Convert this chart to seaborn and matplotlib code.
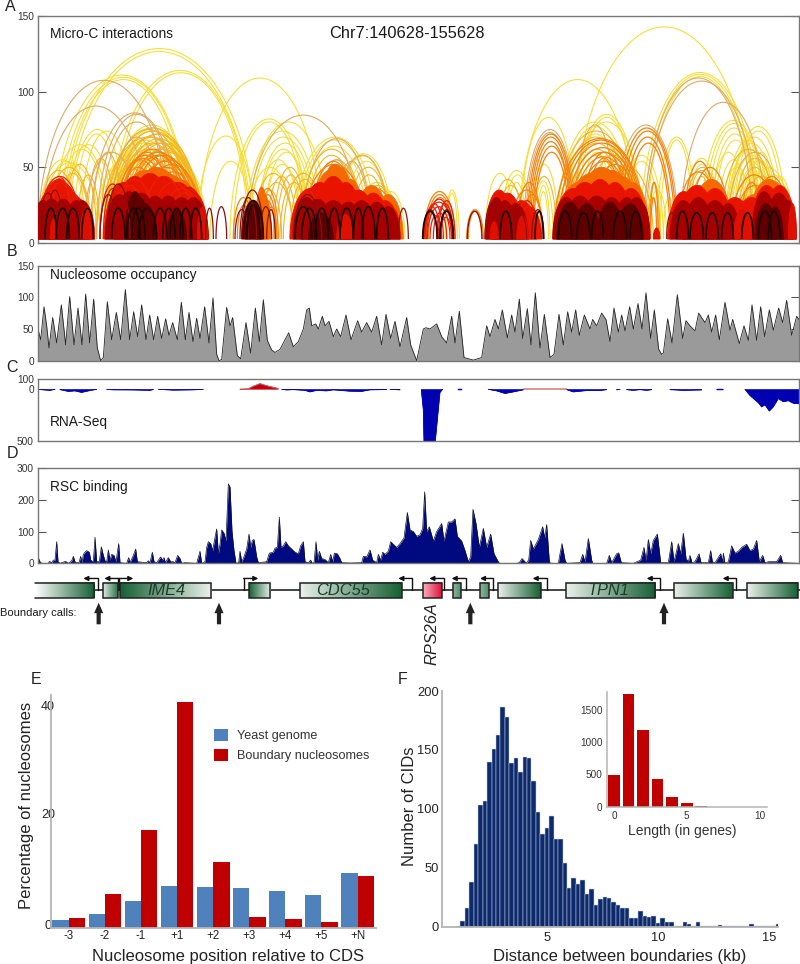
import numpy as np
import pandas as pd
import matplotlib
matplotlib.use("Agg")
import matplotlib.pyplot as plt
from matplotlib.collections import LineCollection, PolyCollection
from matplotlib.colors import LinearSegmentedColormap
from matplotlib.patches import Rectangle
from matplotlib.transforms import ScaledTranslation
import seaborn as sns

# ---------- Panel A: Micro-C arcs, (left bin, right bin, height); *_a left half, *_b right half (+1200 bins)
yellow_a = [(190,765,128.5),(200,755,126.5),(330,750,114),(340,745,112.5),(595,965,109),(160,570,111),(175,565,109.5),(185,555,108),
 (114,260,55),(130,270,54),(118,300,53),(150,330,65),(170,320,62),(190,340,65),(205,380,75),(220,360,72),(240,400,74),
 (320,590,78),(330,585,76),(335,575,74),(350,570,76),(345,600,72),(360,590,72),(370,600,68),(330,610,66),(345,610,62),(310,560,68),(320,540,66),
 (340,500,60),(300,480,58),(290,450,55),(285,420,50),(400,605,64),(420,610,60),(440,615,56),(470,620,52),
 (590,765,70.7),(630,755,54),(690,925,82),(700,915,80),(745,985,80),(735,960,74),(750,950,70),(770,940,66),(775,925,62),(790,930,60),(770,900,55),(790,905,52),(740,880,50),
 (880,1130,70),(890,1120,68),(900,1105,64),(1000,1180,59),(1010,1170,57.5),(1030,1170,54),(1060,1200,40),(1070,1190,40),(1100,1190,36),(1130,1215,34)]
yellow_b = [(520,1065,142.8),(355,710,108),(360,530,83),(520,720,85),(530,710,83),(510,730,80),(720,1080,112.7),(730,1070,111.5),(740,1060,110),
 (770,890,70),(780,880,68),(900,1100,81),(910,1095,79),(920,1085,76),(930,1080,72),(940,1075,68),(990,1160,77),(1000,1150,74),(985,1140,70),(980,1130,66),(975,1125,62),(990,1120,58),(1000,1110,54),(1035,1175,50),
 (850,960,56),(860,950,52),(255,345,46),(300,400,48),(310,395,45),(320,380,40),(135,178,35),(140,172,33),(400,460,41),(410,450,38),(415,445,34),(390,475,52),
 (470,700,80),(480,690,77),(490,680,72),(540,640,60),(580,700,62),(600,720,60),(660,790,58),(670,780,54),(745,800,35),(790,825,30),(1040,1130,60),(1060,1180,45),
 (930,1040,60),(950,1050,55),(960,1060,50),(975,1110,68),(1010,1100,50),(1020,1090,45),(1030,1130,55),(1045,1120,48),(1060,1110,40),(1100,1180,44),(1120,1175,38)]
gold_a = [(300,590,70),(315,575,75),(340,560,70),(355,595,66),(375,605,62),(330,560,62),(345,545,58),(360,540,56),(325,500,54),(310,470,50),(400,600,56),(430,610,50),(455,615,46),
 (310,605,76),(322,598,74),(338,608,72),(352,600,69),(366,612,66),(380,605,63),(392,615,60),(330,580,70),(345,565,66),
 (115,235,48),(140,275,50),(165,270,46),(190,290,52),(230,300,45),(260,345,56),(275,370,60),(760,880,46),(780,880,40),(800,890,44),(820,920,50),(830,915,45),(840,925,40),(775,845,35),
 (900,1090,62),(915,1075,58),(930,1090,55),(1040,1170,50),(1055,1160,45),(1075,1190,38),(850,970,46),(870,960,42),(1130,1200,30)]
gold_b = [(465,710,74),(475,700,70),(490,690,66),(500,680,62),(510,670,58),(560,720,58),(580,730,55),(610,760,50),(745,780,40),(740,775,30),(960,1130,62),(1000,1130,56),(1010,1120,50),(1020,1150,44),(1050,1170,38),(860,950,48),(870,940,44),(275,370,42),(290,375,38),(395,470,44)]
tan_a = [(114,510,107.5),(125,450,90.5),(270,540,86),(290,530,85),(300,520,80),(740,1080,84.5),(905,1115,69),(1005,1170,58),(330,490,70),(250,420,60),(1000,1110,54),(960,1060,55),(1100,1200,30)]
tan_b = [(840,1100,93),(370,530,75),(375,525,73),(640,835,78),(730,1060,109),(735,1075,107),(520,650,78),(980,1150,60),(850,965,50),(880,930,35)]
orange_a = [(340,500,55),(360,520,60),(380,570,58),(400,590,54),(420,580,50),(440,600,47),(350,480,50),(355,560,62),(370,580,60),(385,595,58),(405,605,55),(420,612,52),(340,530,58),(350,510,56),(775,830,32),(780,825,28),(770,835,36),(905,1100,52),(930,1070,54),(950,1060,50),(1065,1190,36),(1080,1185,32),(1115,1195,28),(700,760,30),(712,750,25),(800,830,24)]
orange_b = [(380,525,72),(385,520,70),(390,515,67),(395,515,64),(400,510,60),(650,830,76),(660,825,74),(670,815,70),(680,810,66),(460,740,69),(470,735,68),(480,730,66),(490,725,63),(500,720,60),(510,710,57),(525,700,54),(540,690,60),(555,670,56),(570,720,52),(72,165,34),(78,160,32),(85,155,30),(200,250,22),(205,245,21),(990,1135,45),(1020,1090,40),(1000,1130,38),(1060,1170,44),(1090,1165,40),(830,960,47),(850,950,54),(870,990,50),(330,430,35),(350,425,40),(365,430,32),(750,775,40),(752,770,30)]
red_arcs_a = [(114,245,44),(122,235,42),(135,225,40),(150,215,43),(135,195,35),(300,375,39),(310,365,36),(325,445,38),(335,470,42),(350,430,38),(425,560,44),(450,590,40),(480,610,36),(495,612,33),(885,960,35),(1165,1200,22)]
red_arcs_b = [(75,158,27),(82,150,24),(72,120,24),(75,130,26),(110,160,26),(115,165,28),(80,155,29),(100,140,20),(90,125,18),(120,155,17),(345,415,28),(360,405,24),(1140,1188,30)]
orange_domes_a = [(350,520,48),(380,560,50),(400,570,48),(430,590,45),(465,610,42),(770,815,32),(765,805,37),(930,1050,48),(950,1060,52),(970,1070,50),(1000,1100,42),(1060,1170,38),(1120,1210,32)]
orange_domes_b = [(490,660,46),(520,690,50),(560,710,48),(600,730,44),(470,600,40),(650,748,40),(840,960,38),(870,1000,42),(1000,1130,32),(1040,1175,42),(1080,1180,38)]
red_domes_a = [(100,250,38),(112,240,42),(130,245,40),(150,265,34),(175,280,30),(312,430,40),(340,470,44),(380,520,46),(420,560,44),(470,600,40),(510,620,37),(540,625,33),(870,990,36),(900,1020,40),(940,1060,44),(985,1090,40),(1020,1130,35),(1070,1170,33),(1110,1200,28)]
red_domes_b = [(255,340,35),(275,370,33),(320,410,28),(350,425,24),(460,580,36),(490,620,40),(540,660,42),(590,700,40),(640,745,36),(670,750,30),(803,900,34),(830,950,38),(890,1000,36),(950,1060,30),(1000,1110,30),(1050,1150,38),(1090,1188,38)]
dark_domes_a = [(90,170,28),(114,195,29),(150,230,29),(190,270,28),(210,283,28),(316,400,32),(345,430,34),(380,470,33),(420,510,31),(460,550,31),(500,590,30),(540,622,30),(565,625,27),(725,790,28),(880,960,30),(905,1000,29),(950,1050,28),(1000,1090,27),(1040,1130,28),(1090,1170,27),(1130,1200,24)]
dark_domes_b = [(258,320,30),(280,350,28),(310,385,26),(458,540,30),(490,590,31),(540,640,31),(590,680,30),(640,720,30),(670,748,30),(700,750,26),(810,890,28),(850,940,30),(900,990,28),(950,1020,26),(1055,1130,34),(1095,1180,33),(1140,1188,28)]
bright_domes_a = [(240,284,24),(150,172,16),(592,623,24),(1010,1060,19)]
bright_domes_b = [(1000,1055,22),(1165,1190,26),(350,385,18),(270,295,14),(760,780,10)]
maroon_domes_a = [(375,435,34),(385,450,30),(400,470,26),(500,560,22),(735,785,27),(925,1000,20)]
maroon_domes_b = [(470,550,27),(520,600,26),(590,670,27),(650,730,26),(1065,1130,26),(1100,1150,24)]
dark_arcs_a = [(617,640,23),(648,680,24),(705,745,22),(720,770,30),(725,790,35),(780,815,24),(800,826,22),(880,965,32),(890,950,30),(1195,1225,23),(300,350,32),(320,390,39),(118,170,33),(140,190,35)]
dark_arcs_b = [(202,246,21),(255,300,27),(300,345,21),(340,380,20),(395,432,22),(70,112,22),(120,160,22),(800,830,20)]
black_arcs_a = [(135,170,23),(168,208,23),(200,238,23),(245,280,23),(380,420,23),(395,435,23),(415,470,23),(460,500,23),(488,525,23),(510,550,23),(540,575,23),(570,605,23),(885,935,24),(905,950,23),(945,985,23),(985,1020,23),(1020,1060,23),(1060,1090,23),(1085,1125,24),(1130,1165,23),(730,790,28),(740,780,25),(335,375,23)]
black_arcs_b = [(68,112,21),(120,160,21),(300,335,21),(405,430,21),(475,515,21),(530,570,20),(575,610,21),(640,680,21),(690,725,21),(830,865,21),(870,910,20),(918,955,20),(965,1000,20),(1025,1060,20),(1075,1115,21),(1105,1140,21)]

# ---------- Panel B: nucleosome occupancy
occ_x_a = [114,122,132,140,147,158,170,184,197,209,222,234,246,257,269,281,292,302,310,322,335,349,362,376,389,401,413,425,438,449,461,473,485,497,507,518,532,544,556,567,579,590,600,614,627,639,650,657,665,680,690,698,712,722,738,752,766,778,790,802,815,825,840,852,866,880,895,910,920,928,935,947,955,967,975,987,1000,1010,1022,1038,1053,1073,1085,1100,1115,1130,1145,1158,1172,1185]
occ_y_a = [50,33,85,55,20,68,28,88,25,101,25,83,25,105,28,97,20,0,5,93,33,76,33,112,33,77,38,88,33,72,33,70,35,66,40,60,33,92,33,76,30,67,35,85,28,99,10,0,2,84,55,68,8,3,60,12,83,30,96,32,17,13,18,30,44,22,30,50,80,83,55,58,50,70,55,62,38,50,38,72,33,63,45,60,45,70,25,73,35,62]
occ_x_b = [0,20,32,50,70,78,90,110,125,140,155,165,178,192,220,245,260,270,285,295,307,322,335,345,358,368,382,393,406,420,433,450,462,477,490,503,515,527,538,553,570,578,590,605,618,630,642,655,665,675,689,700,714,726,738,752,763,776,785,790,803,816,832,848,858,870,885,896,915,925,935,947,958,975,990,998,1018,1032,1045,1056,1070,1082,1094,1108,1120,1136,1148,1160,1175,1190,1197]
occ_y_b = [22,68,25,0,50,52,50,58,38,28,70,28,78,5,1,5,55,38,65,50,80,36,72,45,97,35,82,25,107,20,73,5,10,73,25,77,45,80,40,72,50,65,55,75,65,30,83,45,72,47,85,50,90,50,107,35,80,18,10,12,66,28,104,35,63,55,47,75,60,72,45,72,33,92,48,65,27,55,32,88,32,85,38,80,48,83,60,95,40,70,65]

# ---------- Panel C: RNA-Seq (NaN separates the pieces of the track)
nan = np.nan
rna_x_a = [114,130,150,165,nan,180,205,225,245,270,290,nan,320,340,400,450,460,nan,475,520,580,610,nan,845,860,880,915,930,950,980,1000,1050,1085,1110,1160,nan,1170]
rna_y_a = [0,-5,-10,0,nan,-3,-20,-15,-30,-12,0,nan,0,-5,-6,-10,-2,nan,0,-8,-5,0,nan,0,-6,-3,-10,-25,-10,-15,-5,-18,-20,-5,-2,nan,0]
rna_x_b = [0,nan,64,70,72,106,120,128,nan,175,185,nan,265,290,315,340,370,nan,500,520,560,600,620,nan,650,660,nan,680,700,720,740,755,nan,810,850,905,nan,950,970,nan,1035,1050,1075,1085,1095,1108,1120,1135,1150,1165,1180,1198]
rna_y_b = [-5,nan,-5,-200,-500,-500,-30,0,nan,-3,-3,nan,0,-15,-40,-25,-5,nan,-3,-25,-12,-12,-3,nan,-5,0,nan,-3,-10,-3,-10,-3,nan,-3,-10,-6,nan,-3,-3,nan,0,-60,-130,-170,-150,-210,-170,-90,-120,-110,-135,-140]
rna_sense_x = [720,745,760,780,800,835,nan,1570,1700]
rna_sense_y = [2,5,30,55,35,8,nan,3,3]

# ---------- Panel D: RSC binding
rsc_x_a = [114,120,125,145,148,155,160,165,170,174,180,185,197,205,215,220,226,237,242,246,250,255,260,268,272,280,285,290,298,304,310,316,320,325,330,335,342,348,356,360,380,386,390,400,407,412,440,445,450,457,462,470,482,487,492,496,505,512,520,525,533,540,545,555,590,600,605,615,620,625,632,638,643,650,655,660,665,672,678,685,690,696,702,708,716,720,725,730,740,747,752,757,762,770,775,800,808,820,825,832,838,843,850,857,865,875,885,895,902,910,915,925,932,937,942,948,953,958,965,975,985,992,998,1003,1012,1020,1025,1050,1085,1090,1100,1110,1118,1130,1135,1142,1148,1155,1165,1172,1180,1190]
rsc_y_a = [20,5,0,0,6,2,10,10,68,5,0,2,6,0,8,22,2,2,22,2,28,35,40,35,10,5,82,5,5,52,25,5,5,42,10,28,25,5,62,2,0,18,2,25,45,5,2,8,2,35,5,2,20,10,18,2,18,5,5,2,25,15,0,2,0,38,0,5,50,68,62,40,70,108,30,60,105,95,70,250,240,100,40,0,2,38,5,15,45,92,50,72,75,20,2,5,32,35,48,50,145,50,55,68,55,45,35,30,55,68,5,2,10,0,2,68,10,38,15,12,2,28,5,32,30,15,2,1,2,22,20,42,10,2,28,10,35,28,38,68,60,50]
rsc_x_b = [0,12,22,30,40,50,60,68,74,80,88,100,110,125,132,145,155,165,172,185,195,205,212,219,228,238,250,260,272,282,295,298,350,358,366,375,378,386,392,400,415,428,434,440,448,452,475,480,486,495,500,540,548,555,565,575,578,620,628,635,650,656,664,700,722,732,738,745,752,760,772,782,805,815,822,835,842,850,858,865,870,876,885,897,903,925,932,937,945,962,968,970,975,985,995,1005,1015,1025,1040,1050,1060,1070,1078,1088,1095,1105,1130,1142,1148,1195]
rsc_y_b = [62,80,160,105,100,85,90,110,225,100,115,70,100,125,70,130,130,140,85,70,40,5,20,170,125,50,110,50,92,30,5,0,0,2,15,5,0,10,72,45,75,115,80,122,5,0,0,30,62,10,0,2,28,5,78,10,0,0,25,2,30,33,2,0,10,50,8,75,30,72,92,2,2,68,5,62,30,95,15,5,25,2,5,30,2,2,40,5,2,30,5,32,0,5,55,32,38,50,60,40,45,72,5,25,2,5,5,25,2,0]

# ---------- Gene track
gene_start = [105,310,360,747,901,1270,1360,1440,1495,1698,2022,2242]
gene_end = [282,353,633,810,1206,1326,1382,1466,1623,1966,2198,2395]
gene_rising = [True,True,False,False,True,True,True,True,True,True,True,True]
gene_kind = ["full","pale","full","full","full","rp","small","small","full","full","full","full"]
gene_names = {"IME4":500,"CDC55":1030,"TPN1":1825}
tss_stem = [293,355,358,731,1236,1332,1397,1478,1640,1980,2208]
tss_tip = [250,313,400,775,1195,1288,1355,1440,1598,1940,2168]
boundary_calls = [296,657,1411,1992]

# ---------- Panel E
positions = ["-3","-2","-1","+1","+2","+3","+4","+5","+N"]
yeast_genome = [1.4,2.5,4.8,7.6,7.4,7.2,6.7,5.9,9.8]
boundary_nucs = [1.7,6.0,17.6,40.6,11.8,1.9,1.5,1.1,9.4]

# ---------- Panel F
cid_first_edge_kb = 0.9
cid_bin_kb = 0.2
cid_counts = [0.5,5,16,38,70,103,107,140,151,163,186,178,139,143,131,144,143,124,97,79,84,94,74,74,54,33,41,36,40,28,32,18,23.5,25.5,24,21,18,16,15.5,7,7.6,13,9,8,9,3,7,4,4,1,1,4,2,0.3,4,0.5,0.5,0.5,0.5,1.5,0.5,0.5,0.5,0.5,0.5,0.3,2,1,0.3,0.3,0.5,0.3,2]
gene_lengths = [str(i) for i in range(11)]
length_counts = [495,1740,1180,432,150,52,10,3,1,1,1]

# ---------- Styles
GENOME_L, GENOME_R = 38, 799
XMIN, XMAX = 114, 2397
BASE = 2.6
FIG_H = 964
sns.set_theme(style="white", rc={"axes.grid": False})
plt.rcParams["font.family"] = ["Liberation Sans", "DejaVu Sans"]
TICK_C = "#333333"
SPINE_C = "#777777"
fig = plt.figure(figsize=(8, 9.64), dpi=100)


def px_axes(l, t, r, b, **kw):
    return fig.add_axes([l / 800, 1 - b / FIG_H, (r - l) / 800, (b - t) / FIG_H], **kw)


def px_text(x, y, s, **kw):
    kw.setdefault("va", "center")
    kw.setdefault("color", "#1a1a1a")
    return fig.text(x / 800, 1 - y / FIG_H, s, **kw)


def merge(a, b):
    return [tuple(v) for v in a] + [(l + 1200, r + 1200, h) for l, r, h in b]


def dome(arc):
    l, r, h = arc
    t = np.linspace(0, np.pi, 70)
    return np.column_stack([(l + r) / 2 + (r - l) / 2 * np.cos(t), BASE + (h - BASE) * np.sin(t)])


def track_axes(t, b, ylim, yticks, ylabels):
    ax = px_axes(GENOME_L, t, GENOME_R, b)
    ax.set_xlim(XMIN, XMAX)
    ax.set_ylim(*ylim)
    ax.set_xticks([])
    ax.set_yticks(yticks, ylabels)
    ax.tick_params(axis="y", labelsize=7.3, labelcolor=TICK_C, direction="in", length=6, width=0.8, pad=3,
                   color="#555555", left=True, right=True)
    for s in ax.spines.values():
        s.set_color(SPINE_C)
        s.set_linewidth(1.0)
    return ax


# ---------- Panel A
ax = track_axes(16, 243, (0, 150), [0, 50, 100, 150], ["0", "50", "100", "150"])
layers = [
    ("line", merge(yellow_a, yellow_b), "#f7dc30", 0.75),
    ("line", merge(gold_a, gold_b), "#f2b624", 0.8),
    ("line", merge(tan_a, tan_b), "#dcaa68", 0.8),
    ("line", merge(orange_a, orange_b), "#f4820c", 0.9),
    ("fill", merge(orange_domes_a, orange_domes_b), "#f56a00", 0),
    ("fill", merge(red_domes_a, red_domes_b), "#e81400", 0),
    ("line", merge(red_arcs_a, red_arcs_b), "#e8200a", 0.9),
    ("fill", merge(dark_domes_a, dark_domes_b), "#a60000", 0),
    ("fill", merge(bright_domes_a, bright_domes_b), "#e01000", 0),
    ("fill", merge(maroon_domes_a, maroon_domes_b), "#5e0000", 0),
    ("line", merge(dark_arcs_a, dark_arcs_b), "#8a1010", 0.9),
    ("line", merge(black_arcs_a, black_arcs_b), "#1c0000", 1.2),
]
for z, (kind, arcs, colour, lw) in enumerate(layers):
    polys = [dome(a) for a in arcs]
    if kind == "line":
        ax.add_collection(LineCollection(polys, colors=colour, linewidths=lw, zorder=2 + z * 0.1))
    else:
        ax.add_collection(PolyCollection(polys, facecolors=colour, edgecolors=colour, linewidths=0.6, zorder=2 + z * 0.1))
px_text(50, 34.5, "Micro-C interactions", fontsize=9.9)
px_text(329, 33.5, "Chr7:140628-155628", fontsize=11.8)

# ---------- Panel B
occ_x = np.array(occ_x_a + [v + 1200 for v in occ_x_b], float)
occ_y = np.array(occ_y_a + occ_y_b, float)
ax = track_axes(265.5, 360.7, (0, 150), [0, 50, 100, 150], ["0", "50", "100", "150"])
ax.tick_params(axis="y", left=False)
ax.fill_between(occ_x, 0, occ_y, color="#9a9a9a", lw=0)
sns.lineplot(x=occ_x, y=occ_y, color="#222222", lw=0.6, ax=ax, estimator=None, sort=False, solid_joinstyle="round")
ax.set_xlim(XMIN, XMAX)
ax.set_ylim(0, 150)
ax.set_xticks([])
px_text(50, 275.5, "Nucleosome occupancy", fontsize=9.9)

# ---------- Panel C
ax = track_axes(379, 441, (-500, 100), [-500, 0, 100], ["500", "0", "100"])
ax.tick_params(axis="y", left=False, right=False, pad=3)
rna_x = np.array(rna_x_a + [v + 1200 for v in rna_x_b], float)
rna_y = np.array(rna_y_a + rna_y_b, float)
ax.fill_between(rna_x, 0, rna_y, color="#0000b0", lw=0.3)
ax.plot(rna_x, rna_y, color="#0000b0", lw=0.6)
sx, sy = np.array(rna_sense_x, float), np.array(rna_sense_y, float)
ax.fill_between(sx, 0, sy, color="#c00010", lw=0.3)
ax.plot(sx, sy, color="#d06060", lw=0.7)
px_text(50, 422, "RNA-Seq", fontsize=9.9)

# ---------- Panel D
rsc_x = np.array(rsc_x_a + [v + 1200 for v in rsc_x_b], float)
rsc_y = np.array(rsc_y_a + rsc_y_b, float)
ax = track_axes(468, 563.3, (0, 300), [0, 100, 200, 300], ["0", "100", "200", "300"])
ax.fill_between(rsc_x, 0, rsc_y, color="#000a80", lw=0)
sns.lineplot(x=rsc_x, y=rsc_y, color="#10102a", lw=0.5, ax=ax, estimator=None, sort=False)
ax.set_xlim(XMIN, XMAX)
ax.set_ylim(0, 300)
ax.set_xticks([])
px_text(50, 487, "RSC binding", fontsize=9.9)

# ---------- Gene track
gx = px_axes(0, 572, 800, 632)
gx.set_xlim(0, 2400)
gx.set_ylim(-5.4, 2.4)
gx.axis("off")
gx.plot([282, 2400], [0, 0], color="#111111", lw=1.1, zorder=1)
kinds = {
    "full": ("#eaf1ec", "#166033"),
    "pale": ("#dfe9e2", "#2c7447"),
    "small": ("#8fb69e", "#4f8f69"),
    "rp": ("#f6b0bc", "#e0103a"),
}
for i, (s, e, rising, kind) in enumerate(zip(gene_start, gene_end, gene_rising, gene_kind)):
    lo, hi = kinds[kind]
    if i == 0:
        lo = "#ffffff"
    cmap = LinearSegmentedColormap.from_list("g", [lo, hi] if rising else [hi, lo])
    gx.imshow(np.linspace(0, 1, 128)[None, :], extent=(s, e, -1, 1), aspect="auto", cmap=cmap, zorder=2)
    if i == 0:
        gx.plot([s, e, e, s], [1, 1, -1, -1], color="#222222", lw=1.1, zorder=3)
    else:
        gx.add_patch(Rectangle((s, -1), e - s, 2, fill=False, ec="#222222", lw=1.1, zorder=3))
gx.set_xlim(0, 2400)
gx.set_ylim(-5.4, 2.4)
for name, xc in gene_names.items():
    gx.text(xc, 0, name, style="italic", fontsize=11.8, color="#1d3b2a", ha="center", va="center", zorder=4)
for stem, tip in zip(tss_stem, tss_tip):
    gx.plot([stem, stem], [0, 1.56], color="#111111", lw=1.0, zorder=1.5)
    gx.annotate("", xy=(tip, 1.56), xytext=(stem, 1.56),
                arrowprops=dict(arrowstyle="-|>", color="#111111", lw=1.0, mutation_scale=7, shrinkA=0, shrinkB=0))
for x in boundary_calls:
    gx.annotate("", xy=(x, -1.6), xytext=(x, -4.4),
                arrowprops=dict(width=3.0, headwidth=6.6, headlength=7.5, color="#222222", shrink=0, lw=0))
px_text(0, 613, "Boundary calls:", fontsize=8)
px_text(432, 634, "RPS26A", style="italic", fontsize=11.8, rotation=90, ha="center", color="#222222")

# ---------- Panel E
df = pd.DataFrame({
    "position": positions * 2,
    "percent": yeast_genome + boundary_nucs,
    "series": ["Yeast genome"] * len(positions) + ["Boundary nucleosomes"] * len(positions),
})
ax = px_axes(51, 694.6, 376, 927.7)
ax.patch.set_alpha(0)
sns.barplot(data=df, x="position", y="percent", hue="series", palette=["#4f81bd", "#c00000"], saturation=1,
            width=0.905, gap=0, order=positions, ax=ax, linewidth=0, errorbar=None)
ax.set_xlim(-0.493, 8.51)
ax.set_ylim(0, 42)
ax.set_yticks([0, 20, 40])
sns.despine(ax=ax)
for s in ("left", "bottom"):
    ax.spines[s].set_color("#b4b4b4")
    ax.spines[s].set_linewidth(1.3)
ax.tick_params(axis="x", length=0, labelsize=8.3, labelcolor="#222222", pad=2)
ax.tick_params(axis="y", length=0, labelsize=9, labelcolor="#222222", pad=-3)
for lbl, (dx, dy) in zip(ax.get_yticklabels(), ((-4, 3), (0, 3), (0, 0))):
    lbl.set_transform(lbl.get_transform() + ScaledTranslation(dx / 100, dy / 100, fig.dpi_scale_trans))
    lbl.set_zorder(6)
ax.set_ylabel("Percentage of nucleosomes", fontsize=12, color="#222222", va="center")
ax.yaxis.set_label_coords((27 - 51) / 325, (927.7 - 805) / 233.1)
ax.set_xlabel("Nucleosome position relative to CDS", fontsize=12, color="#222222", va="center")
ax.xaxis.set_label_coords((228 - 51) / 325, -(956 - 927.7) / 233.1)
h, l = ax.get_legend_handles_labels()
leg = ax.legend(h, l, frameon=False, fontsize=9.1, handlelength=1.1, handleheight=1.1, handletextpad=0.75,
                labelspacing=0.52, loc="upper left", bbox_to_anchor=((214 - 51) / 325, (927.7 - 729) / 233.1),
                borderpad=0, borderaxespad=0, labelcolor="#333333")

# ---------- Panel F
n_bins = len(cid_counts)
cid_centres = cid_first_edge_kb + cid_bin_kb * (np.arange(n_bins) + 0.5)
ax = px_axes(441.7, 691, 778, 926.7)
ax.patch.set_alpha(0)
sns.histplot(x=cid_centres, weights=cid_counts, binwidth=cid_bin_kb,
             binrange=(cid_first_edge_kb, cid_first_edge_kb + cid_bin_kb * n_bins),
             color="#0d2a6c", edgecolor="#c5cfe2", linewidth=0.35, alpha=1, ax=ax)
ax.set_xlim(0.257, 15.4)
ax.set_ylim(0, 200)
ax.set_xticks([5, 10, 15])
ax.set_yticks([0, 50, 100, 150, 200])
sns.despine(ax=ax)
for s in ("left", "bottom"):
    ax.spines[s].set_color("#b4b4b4")
    ax.spines[s].set_linewidth(1.3)
ax.tick_params(axis="both", length=0, labelsize=9.3, labelcolor="#222222")
ax.tick_params(axis="y", pad=2)
ax.tick_params(axis="x", pad=4)
ax.set_ylabel("Number of CIDs", fontsize=12, color="#222222", va="center")
ax.yaxis.set_label_coords((410 - 441.7) / 336.3, (926.7 - 806) / 235.7)
ax.set_xlabel("Distance between boundaries (kb)", fontsize=12, color="#222222", va="center")
ax.xaxis.set_label_coords((620 - 441.7) / 336.3, -(956 - 926.7) / 235.7)

# ---------- Panel F inset
ins = px_axes(606.7, 691.7, 766.7, 806.7)
ins.patch.set_alpha(0)
sns.barplot(x=gene_lengths, y=length_counts, color="#c00000", saturation=1, width=0.8, order=gene_lengths, ax=ins, linewidth=0, errorbar=None)
ins.set_xlim(-0.5, 10.5)
ins.set_ylim(0, 1778)
ins.set_xticks([0, 5, 10], ["0", "5", "10"])
ins.set_yticks([0, 500, 1000, 1500])
sns.despine(ax=ins)
for s in ("left", "bottom"):
    ins.spines[s].set_color("#b4b4b4")
    ins.spines[s].set_linewidth(1.1)
ins.tick_params(axis="both", length=0, labelsize=7.2, labelcolor="#333333", pad=3)
ins.set_xlabel("Length (in genes)", fontsize=10, color="#333333", va="center")
ins.xaxis.set_label_coords((682.5 - 606.7) / 160, -(830.7 - 806.7) / 115)
ins.set_ylabel("")

# ---------- Panel letters
for x, y, s in [(5, 6.5, "A"), (7, 252, "B"), (6, 367, "C"), (7, 454, "D"), (31, 680, "E"), (398, 680, "F")]:
    px_text(x, y, s, fontsize=11.5, color="#222222")

fig.savefig("out.png", dpi=100)
